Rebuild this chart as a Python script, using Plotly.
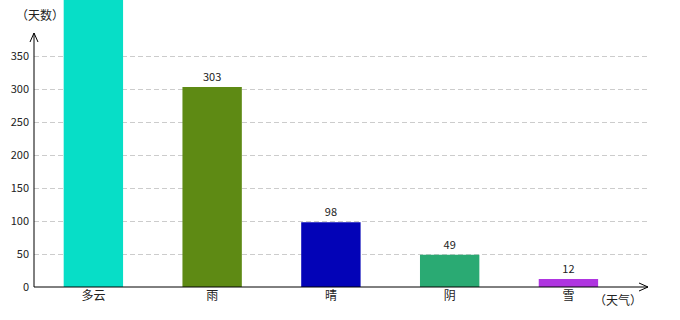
import plotly.graph_objects as go

categories = ["多云", "雨", "晴", "阴", "雪"]
days = [520, 303, 98, 49, 12]
colors = ["#07DEC7", "#5E8A14", "#0303B7", "#2AAA73", "#AF35E0"]
y_ticks = [0, 50, 100, 150, 200, 250, 300, 350]

W, H = 680, 320
ml, mr, mt, mb = 34, 32, 0, 33
ph = H - mt - mb
pw = W - ml - mr

fig = go.Figure(go.Bar(
    x=categories, y=days, marker=dict(color=colors, line=dict(width=0)),
    text=[str(v) for v in days], textposition="outside", textangle=0,
    constraintext="none", cliponaxis=True,
    textfont=dict(family="Noto Sans CJK SC, DejaVu Sans", size=11, color="#222"),
    width=0.5,
))

ytop = (H - mb - 33) / ph
xend = 1.0

shapes = [
    dict(type="line", xref="paper", yref="paper", x0=0, x1=0, y0=0, y1=ytop,
         line=dict(color="black", width=1)),
    dict(type="line", xref="paper", yref="paper", x0=-4 / pw, x1=0, y0=ytop - 9 / ph, y1=ytop,
         line=dict(color="black", width=1)),
    dict(type="line", xref="paper", yref="paper", x0=4 / pw, x1=0, y0=ytop - 9 / ph, y1=ytop,
         line=dict(color="black", width=1)),
    dict(type="line", xref="paper", yref="paper", x0=0, x1=xend, y0=0, y1=0,
         line=dict(color="black", width=1)),
    dict(type="line", xref="paper", yref="paper", x0=xend - 9 / pw, x1=xend, y0=4 / ph, y1=0,
         line=dict(color="black", width=1)),
    dict(type="line", xref="paper", yref="paper", x0=xend - 9 / pw, x1=xend, y0=-4 / ph, y1=0,
         line=dict(color="black", width=1)),
]

annotations = [
    dict(text="（天数）", xref="paper", yref="paper", x=-20 / pw, y=(H - mb - 14) / ph,
         xanchor="left", yanchor="middle", showarrow=False,
         font=dict(family="Noto Sans CJK SC", size=12, color="#222")),
    dict(text="（天气）", xref="paper", yref="paper", x=(592 - ml) / pw, y=-12 / ph,
         xanchor="left", yanchor="middle", showarrow=False,
         font=dict(family="Noto Sans CJK SC", size=12, color="#222")),
]

fig.update_layout(
    width=W, height=H, margin=dict(l=ml, r=mr, t=mt, b=mb),
    paper_bgcolor="white", plot_bgcolor="white",
    showlegend=False, shapes=shapes, annotations=annotations,
    font=dict(family="Noto Sans CJK SC, DejaVu Sans", color="#222"),
    xaxis=dict(range=[-0.5, 4.67], showline=False, showgrid=False, zeroline=False,
               ticks="", tickfont=dict(size=12, color="#222")),
    yaxis=dict(range=[0, 287 / 0.66], tickvals=y_ticks, showline=False, zeroline=False,
               showgrid=True, gridcolor="#cccccc", griddash="5px,3px", gridwidth=1,
               ticks="", ticklabelstandoff=4, tickfont=dict(size=11, color="#222")),
)

fig.write_html("out.html")
